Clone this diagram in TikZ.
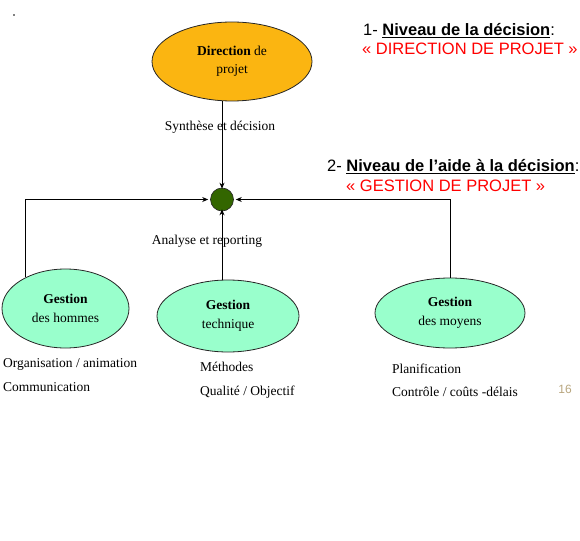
\documentclass[tikz,border=0pt]{standalone}
\usepackage{fontspec}
\setmainfont{Liberation Serif}
\newfontfamily\arial{Liberation Sans}
\usetikzlibrary{shapes.geometric,arrows.meta}
\definecolor{dirfill}{HTML}{FBB511}
\definecolor{gfill}{HTML}{99FFCC}
\definecolor{dotgreen}{HTML}{336600}
\definecolor{numcol}{HTML}{B8A67E}
\begin{document}
\begin{tikzpicture}[x=1pt,y=-1pt,
  oval/.style={ellipse,draw=black!85,line width=0.8pt,inner sep=0pt,align=center,font=\fontsize{13.5}{18.5}\selectfont},
  gest/.style={oval,fill=gfill},
  arr/.style={-{Stealth[length=6pt,width=5pt]},line width=0.8pt},
  lbl/.style={anchor=base west,inner sep=0pt,font=\fontsize{13.5}{16}\selectfont},
  clbl/.style={anchor=base,inner sep=0pt,font=\fontsize{13.5}{16}\selectfont},
  sans/.style={anchor=base west,inner sep=0pt,font=\arial\fontsize{16.5}{19}\selectfont}]
\useasboundingbox (0,0) rectangle (580,540);
\fill (14,15) circle (0.8);
\node[oval,fill=dirfill,minimum width=160pt,minimum height=79pt] (dir) at (232,61.5) {\textbf{Direction} de\\projet};
\node[circle,draw=black!85,fill=dotgreen,minimum size=23pt,inner sep=0pt,line width=0.6pt] (c) at (222,199.5) {};
\node[gest,minimum width=127pt,minimum height=79pt] (hom) at (65.5,308.5) {\textbf{Gestion}\\des hommes};
\node[gest,minimum width=142pt,minimum height=72pt] (tech) at (228,316) {\textbf{Gestion}\\technique};
\node[gest,minimum width=150pt,minimum height=70pt] (moy) at (450,313) {\textbf{Gestion}\\des moyens};
\draw[arr] (dir.south -| c.north) -- ([yshift=-1pt]c.north);
\draw[arr] (hom.142) |- ([xshift=-2pt]c.west);
\draw[arr] (tech.north -| c.south) -- ([yshift=2pt]c.south);
\draw[arr] (moy.north) |- ([xshift=2pt]c.east);
\node[clbl] (syn) at (220,130.7) {Synthèse et décision};
\node[clbl] (ana) at (207,244) {Analyse et reporting};
\node[lbl] (l1) at (3,367) {Organisation / animation};
\node[lbl] (l2) at (3,391.5) {Communication};
\node[lbl] (l3) at (200,371.5) {Méthodes};
\node[lbl] (l4) at (200,395) {Qualité / Objectif};
\node[lbl] (l5) at (392,373) {Planification};
\node[lbl] (l6) at (392,396) {Contrôle / coûts -délais};
\node[anchor=base,inner sep=0pt,font=\arial\fontsize{12}{14}\selectfont,text=numcol] (num) at (565,393) {16};
\node[sans] (t1) at (363,35.7) {1- \underline{\textbf{Niveau de la décision}}:};
\node[sans,text=red] (t2) at (362,55) {« DIRECTION DE PROJET »};
\node[sans] (t3) at (327,171.7) {2- \underline{\textbf{Niveau de l’aide à la décision}}:};
\node[sans,text=red] (t4) at (346,191) {« GESTION DE PROJET »};
\end{tikzpicture}
\end{document}
